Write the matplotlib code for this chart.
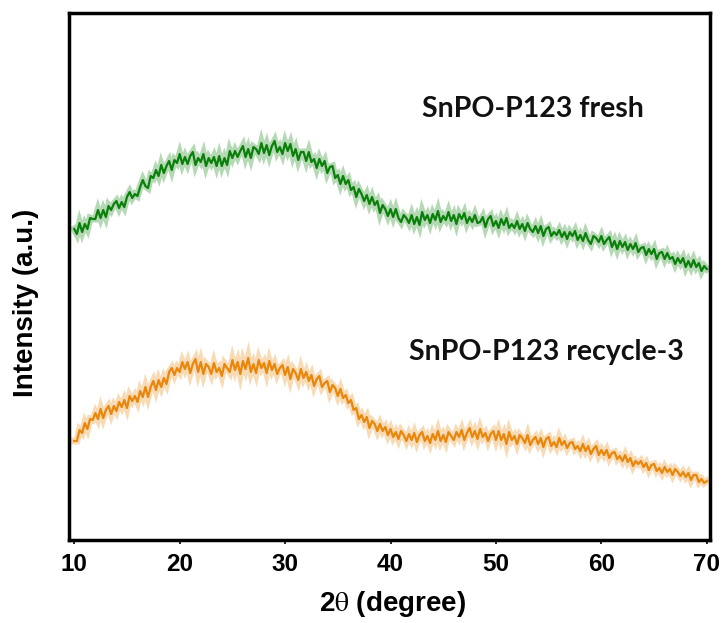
import matplotlib
matplotlib.use('Agg')
import matplotlib.pyplot as plt
import numpy as np

# XRD patterns, intensity in arbitrary units, read every 0.25 deg from 10 to 70
two_theta_start = 10.0
two_theta_step = 0.25

fresh = [
    311, 306, 317, 308, 316, 311, 322, 321,
    321, 330, 322, 330, 323, 334, 330, 336,
    339, 332, 338, 333, 343, 348, 342, 346,
    344, 353, 360, 354, 352, 364, 362, 370,
    364, 375, 367, 374, 379, 370, 380, 377,
    386, 376, 383, 376, 384, 388, 375, 382,
    378, 386, 374, 382, 377, 383, 374, 384,
    374, 382, 375, 389, 382, 389, 383, 389,
    394, 383, 391, 382, 393, 391, 386, 397,
    387, 395, 385, 394, 399, 388, 393, 386,
    397, 389, 396, 384, 391, 380, 388, 388,
    379, 388, 378, 381, 372, 381, 374, 379,
    367, 373, 374, 362, 365, 356, 364, 356,
    360, 350, 353, 343, 351, 346, 339, 345,
    336, 343, 335, 339, 327, 335, 331, 324,
    331, 323, 331, 322, 318, 325, 322, 317,
    325, 316, 323, 315, 328, 320, 325, 317,
    326, 320, 329, 318, 324, 320, 328, 319,
    325, 316, 326, 321, 327, 317, 323, 318,
    325, 317, 318, 323, 313, 321, 324, 314,
    319, 312, 321, 315, 322, 312, 316, 312,
    319, 311, 316, 309, 317, 311, 308, 314,
    307, 314, 304, 311, 313, 304, 308, 305,
    310, 303, 308, 301, 308, 304, 309, 300,
    305, 299, 307, 300, 296, 304, 302, 298,
    304, 296, 300, 303, 293, 299, 291, 299,
    293, 298, 290, 296, 291, 297, 288, 292,
    293, 285, 291, 286, 291, 281, 287, 288,
    281, 287, 281, 283, 276, 282, 277, 282,
    273, 279, 273, 280, 273, 277, 269, 274,
    271,
]

recycle3 = [
    99, 99, 110, 107, 117, 111, 121, 120,
    127, 121, 131, 122, 130, 134, 126, 134,
    129, 138, 133, 140, 132, 144, 139, 144,
    138, 149, 143, 153, 143, 153, 159, 150,
    160, 153, 162, 156, 168, 172, 165, 172,
    168, 178, 171, 178, 167, 176, 181, 168,
    178, 166, 176, 173, 166, 177, 168, 172,
    164, 176, 172, 168, 180, 170, 178, 166,
    179, 171, 182, 168, 176, 167, 180, 172,
    177, 167, 179, 170, 176, 166, 172, 175,
    165, 173, 161, 171, 167, 160, 171, 162,
    168, 159, 165, 154, 161, 164, 153, 157,
    159, 148, 155, 152, 144, 151, 142, 145,
    137, 140, 130, 132, 121, 125, 118, 123,
    112, 119, 116, 109, 116, 109, 113, 105,
    111, 103, 108, 101, 109, 105, 99, 106,
    100, 107, 98, 105, 108, 99, 104, 97,
    106, 100, 109, 99, 105, 98, 108, 104,
    100, 108, 103, 110, 100, 107, 112, 103,
    109, 101, 111, 103, 107, 99, 106, 109,
    100, 109, 100, 106, 96, 108, 100, 104,
    96, 105, 102, 97, 105, 95, 100, 103,
    96, 102, 93, 101, 103, 94, 98, 93,
    102, 95, 99, 92, 97, 98, 91, 94,
    89, 96, 89, 94, 86, 91, 94, 85,
    90, 85, 90, 82, 87, 88, 81, 84,
    79, 85, 78, 82, 74, 79, 76, 79,
    73, 77, 70, 75, 76, 69, 72, 67,
    73, 68, 71, 65, 71, 68, 64, 68,
    63, 67, 60, 65, 65, 58, 61, 57,
    59,
]

series_labels = ['SnPO-P123 fresh', 'SnPO-P123 recycle-3']
xticks = [10, 20, 30, 40, 50, 60, 70]

plt.rcParams['mathtext.fontset'] = 'stix'

fig = plt.figure(figsize=(7.26, 6.23), dpi=100)
ax = fig.add_axes([0.095, 0.1332, 0.8829, 0.8459])

x_fresh = two_theta_start + two_theta_step * np.arange(len(fresh))
x_rec = two_theta_start + two_theta_step * np.arange(len(recycle3))
# light wide underlay gives the noisy band look, thin line on top
ax.plot(x_fresh, fresh, color='#0a800a', linewidth=5, alpha=0.3,
        solid_joinstyle='miter')
ax.plot(x_fresh, fresh, color='#0a800a', linewidth=1.6)
ax.plot(x_rec, recycle3, color='#e8870c', linewidth=5, alpha=0.3,
        solid_joinstyle='miter')
ax.plot(x_rec, recycle3, color='#e8870c', linewidth=1.6)

ax.text(53.5, 423, series_labels[0], ha='center', va='baseline',
        fontsize=20.5, fontweight='bold', family='Lato', color='#111111')
ax.text(54.8, 180, series_labels[1], ha='center', va='baseline',
        fontsize=20.5, fontweight='bold', family='Lato', color='#111111')

ax.set_xlim(9.5, 70.3)
ax.set_ylim(0, 527)
ax.set_xticks(xticks)
ax.set_yticks([])
ax.tick_params(axis='x', direction='out', length=3, width=1.2, pad=6)
for lab in ax.get_xticklabels():
    lab.set_fontfamily('Liberation Sans')
    lab.set_fontweight('bold')
    lab.set_fontsize(17.5)

for sp in ax.spines.values():
    sp.set_linewidth(2.5)

ax.set_xlabel(r'2$\mathrm{\theta}$ (degree)', fontsize=20, fontweight='bold',
              family='Liberation Sans')
ax.set_ylabel('Intensity (a.u.)', fontsize=20, fontweight='bold',
              family='Liberation Sans')
ax.xaxis.set_label_coords(0.505, -0.093)
ax.yaxis.set_label_coords(-0.067, 0.45)
ax.yaxis.label.set_va('center')

plt.savefig('out.png', dpi=100)
plt.close()
